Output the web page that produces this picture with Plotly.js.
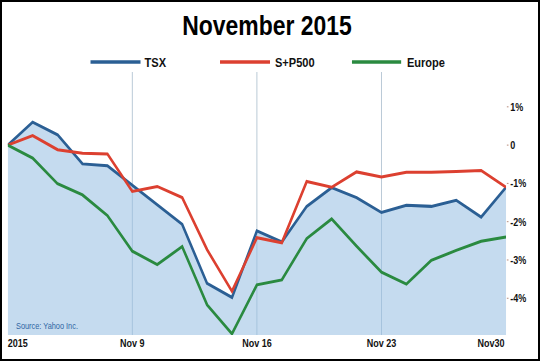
<!DOCTYPE html>
<html>
<head>
<meta charset="utf-8">
<script src="https://cdn.plot.ly/plotly-3.0.1.min.js"></script>
<style>
  html, body { margin: 0; padding: 0; background: #fff; }
  #frame { position: absolute; left: 0; top: 0; width: 540px; height: 361px;
           box-sizing: border-box; border: 2px solid #000; overflow: hidden; background: #fff; }
  #chart { position: absolute; left: 0; top: 0; width: 654px; height: 357px;
           transform: scaleX(0.8196); transform-origin: 0 0; }
</style>
</head>
<body>
<div id="frame"><div id="chart"></div></div>
<script>
// ---- data ----
const dates = ["Nov 2","Nov 3","Nov 4","Nov 5","Nov 6","Nov 9","Nov 10","Nov 11","Nov 12","Nov 13",
               "Nov 16","Nov 17","Nov 18","Nov 19","Nov 20","Nov 23","Nov 24","Nov 25","Nov 26","Nov 27","Nov 30"];
const tsx    = [0, 0.60, 0.27, -0.49, -0.54, -1.05, -1.54, -2.07, -3.61, -3.98,
                -2.24, -2.53, -1.60, -1.11, -1.37, -1.76, -1.57, -1.60, -1.44, -1.88, -1.10];
const sp500  = [0, 0.25, -0.12, -0.21, -0.23, -1.21, -1.08, -1.37, -2.73, -3.82,
                -2.42, -2.55, -0.95, -1.10, -0.70, -0.83, -0.71, -0.71, -0.69, -0.66, -1.10];
const europe = [0, -0.34, -1.01, -1.30, -1.84, -2.77, -3.12, -2.65, -4.17, -4.93,
                -3.65, -3.52, -2.44, -1.93, -2.64, -3.32, -3.63, -3.01, -2.75, -2.51, -2.40];
const seriesNames = ["TSX", "S+P500", "Europe"];
const xTickIdx   = [0, 5, 10, 15, 20];
const xTickText  = ["2015", "Nov 9", "Nov 16", "Nov 23", "Nov30"];
const yTickVals  = [1, 0, -1, -2, -3, -4];
const yTickText  = ["1%", "0", "-1%", "-2%", "-3%", "-4%"];
const yGridVals  = [0, -1];
const sourceText = "Source: Yahoo Inc.";
const titleText  = "November 2015";

// ---- style ----
const yRange = [-4.96, 1.91];
const FONT = "'Liberation Sans', Arial, sans-serif";
const colors = ["#2b5f94", "#dc4030", "#2a8a40"];
const gridColor = "#b9c9d6";
// legend entries: line start/end and text start, pixels from plot-area left (unscaled)
const legendPos = [[101, 162, 165], [259, 320, 324], [420, 480, 485]];
const legendYShift = 10;

const baseline = dates.map(() => yRange[0]);

const traces = [
  { x: dates, y: baseline, type: "scatter", mode: "lines", line: { width: 0 },
    showlegend: false, hoverinfo: "skip" },
  { x: dates, y: tsx, name: seriesNames[0], type: "scatter", mode: "lines",
    fill: "tonexty", fillcolor: "rgba(150,190,225,0.55)", showlegend: false,
    line: { color: colors[0], width: 3 } },
  { x: dates, y: sp500, name: seriesNames[1], type: "scatter", mode: "lines", showlegend: false,
    line: { color: colors[1], width: 3 } },
  { x: dates, y: europe, name: seriesNames[2], type: "scatter", mode: "lines", showlegend: false,
    line: { color: colors[2], width: 3 } }
];

const annotations = xTickIdx.map((i, k) => ({
  x: dates[i], xref: "x", y: 0, yref: "paper",
  xanchor: k === 0 ? "left" : (k === xTickIdx.length - 1 ? "right" : "center"),
  xshift: k === 0 ? -2.4 : 0,
  yanchor: "top", yshift: 0,
  text: xTickText[k], showarrow: false,
  font: { family: FONT, size: 11, color: "#111", weight: "bold" }
}));
annotations.push({
  x: 0, xref: "paper", y: 0, yref: "paper", xanchor: "left", yanchor: "middle",
  xshift: 8, yshift: 9, text: sourceText, showarrow: false,
  font: { family: FONT, size: 9, color: "#2f66a3" }
});

const shapes = [];
seriesNames.forEach((name, k) => {
  const p = legendPos[k];
  shapes.push({ type: "line", xref: "paper", xsizemode: "pixel", xanchor: 0,
    x0: p[0], x1: p[1], yref: "paper", ysizemode: "pixel", yanchor: 1,
    y0: legendYShift, y1: legendYShift,
    line: { color: colors[k], width: 3.5 } });
  annotations.push({ x: 0, xref: "paper", xanchor: "left", xshift: p[2],
    y: 1, yref: "paper", yanchor: "middle", yshift: legendYShift,
    text: name, showarrow: false,
    font: { family: FONT, size: 13.5, color: "#111", weight: "bold" } });
});

const layout = {
  width: 654, height: 357,
  margin: { l: 7, r: 39, t: 70, b: 24 },
  paper_bgcolor: "#fff", plot_bgcolor: "#fff",
  title: { text: titleText, x: 0.4944, xanchor: "center", y: 0.935, yanchor: "middle",
           font: { family: FONT, size: 28, color: "#000", weight: "bold" } },
  showlegend: false,
  xaxis: { type: "category", range: [0, dates.length - 1], tickmode: "array",
           tickvals: xTickIdx.map(i => dates[i]), showticklabels: false,
           showgrid: true, gridcolor: gridColor, gridwidth: 1.2, zeroline: false,
           showline: false, ticks: "", fixedrange: true },
  yaxis: { range: yRange, side: "right", tickmode: "array", tickvals: yTickVals,
           ticktext: yTickText, showgrid: false, zeroline: false, showline: false,
           ticks: "outside", ticklen: 2, tickcolor: "#b08070",
           tickfont: { family: FONT, size: 11, color: "#111", weight: "bold" } },
  yaxis2: { range: yRange, overlaying: "y", side: "right", tickmode: "array",
            tickvals: yGridVals, showticklabels: false, showgrid: true,
            gridcolor: gridColor, gridwidth: 1.5, zeroline: false, ticks: "" },
  shapes: shapes,
  annotations: annotations
};

Plotly.newPlot("chart", traces, layout, { displayModeBar: false, staticPlot: true });
</script>
</body>
</html>
